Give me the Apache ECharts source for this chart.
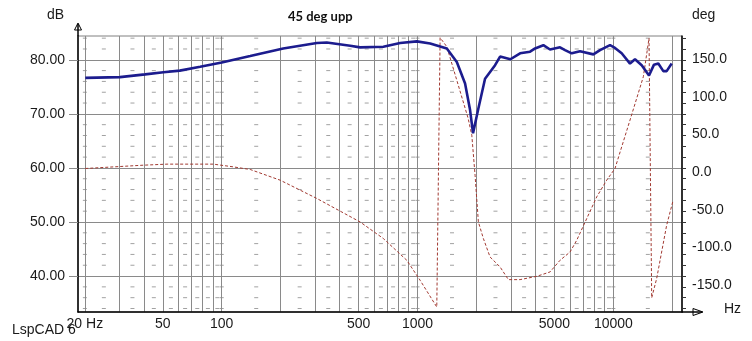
<!DOCTYPE html>
<html><head><meta charset="utf-8">
<script src="https://cdn.jsdelivr.net/npm/echarts@6/dist/echarts.min.js"></script>
<style>html,body{margin:0;padding:0;background:#fff}#c{width:752px;height:341px}</style>
</head><body><div id="c"></div>
<script>
// ---- data ----
const magFreq = [20.1, 30.2, 40.6, 50.4, 61.1, 77.6, 100, 139.8, 206, 306, 344, 453, 509, 669, 815, 992, 1160, 1411, 1587, 1749, 1855, 1921, 2045, 2212, 2489, 2640, 2980, 3340, 3757, 3984, 4391, 4750, 5343, 5665, 6130, 6760, 7905, 8550, 9617, 10195, 11030, 12165, 12900, 13960, 15210, 16130, 16970, 18000, 18720, 19860];
const magDb = [76.65, 76.8, 77.3, 77.7, 78.0, 78.7, 79.5, 80.7, 82.1, 83.1, 83.2, 82.6, 82.3, 82.4, 83.1, 83.4, 83.0, 82.1, 79.6, 75.6, 70.7, 66.4, 71.0, 76.5, 79.0, 80.6, 80.1, 81.2, 81.5, 82.1, 82.7, 81.9, 82.3, 81.8, 81.2, 81.6, 81.0, 81.8, 82.7, 82.2, 81.2, 79.3, 80.1, 79.0, 77.1, 79.1, 79.3, 77.9, 77.9, 79.3];
const phaseFreq = [20.1, 39.7, 52.6, 69, 90.6, 114.4, 139.8, 198.8, 306, 509, 669, 882, 1031, 1254, 1304, 1411, 1812, 1893, 1967, 2045, 2169, 2346, 2640, 2911, 3340, 4063, 4750, 5343, 6010, 6502, 8225, 9250, 10195, 12165, 14230, 15210, 15700, 16650, 18720, 20100];
const phaseDeg = [5, 9.4, 10.8, 10.8, 10.8, 7.2, 3.7, -10.5, -34.8, -66, -88, -117, -143.5, -179, 178.7, 166.8, 71.9, 49.3, -3.9, -66, -88, -112.5, -125.8, -142.6, -142.6, -138.2, -132.4, -116.9, -105.9, -90.3, -32.7, -10.5, 5, 69.3, 126.9, 177.9, -166.8, -141, -70.3, -39.4];
const gridFreqs = [20, 30, 40, 50, 60, 70, 80, 90, 100, 200, 300, 400, 500, 600, 700, 800, 900, 1000, 2000, 3000, 4000, 5000, 6000, 7000, 8000, 9000, 10000, 20000];
const freqLabels = [20, 50, 100, 500, 1000, 5000, 10000];
const crossFreqs = [20, 100, 1000, 10000];
const dbTicks = [40, 50, 60, 70, 80];
const dbMinor = [34, 36, 38, 42, 44, 46, 48, 52, 54, 56, 58, 62, 64, 66, 68, 72, 74, 76, 78, 82, 84];
const degTicks = [-150, -100, -50, 0, 50, 100, 150];
const title = '45 deg upp';

// ---- build ----
const dashX = [];
for (let i = 0; i < gridFreqs.length - 1; i++) dashX.push((gridFreqs[i] + gridFreqs[i + 1]) / 2);
crossFreqs.forEach(f => dashX.push(f));
const dashPts = [];
dashX.forEach(f => dbMinor.forEach(d => dashPts.push([f, d])));
const rightTicks = dbMinor.concat(dbTicks);

const FONT = 'Liberation Sans, Arial, sans-serif';
const chart = echarts.init(document.getElementById('c'), null, {renderer: 'canvas'});
chart.setOption({
  animation: false,
  backgroundColor: '#fff',
  grid: {left: 78, right: 70, top: 36, bottom: 29, show: true, borderColor: '#808080', borderWidth: 1},
  xAxis: [{
    type: 'log', logBase: 10, min: 18.45, max: 22420,
    axisLine: {show: true, onZero: false, lineStyle: {color: '#000', width: 1.5}},
    axisTick: {show: false, customValues: gridFreqs},
    axisLabel: {customValues: freqLabels, fontSize: 14, fontFamily: FONT, color: '#1a1a1a', margin: 5,
      formatter: v => (Math.round(v) === 20 ? '20 Hz' : String(Math.round(v)))},
    splitLine: {show: true, lineStyle: {color: '#8a8a8a', width: 1}},
    minorSplitLine: {show: false}
  }],
  yAxis: [{
    type: 'value', min: 33.35, max: 84.4, position: 'left',
    axisLine: {show: true, onZero: false, lineStyle: {color: '#000', width: 1.5}},
    axisTick: {show: true, customValues: dbTicks, length: 9, lineStyle: {color: '#8a8a8a'}},
    axisLabel: {customValues: dbTicks, fontSize: 14, fontFamily: FONT, color: '#1a1a1a', margin: 13,
      formatter: v => v.toFixed(2)},
    splitLine: {show: true, lineStyle: {color: '#8a8a8a', width: 1}}
  }, {
    type: 'value', min: -185.6, max: 181, position: 'right',
    axisLine: {show: false, onZero: false},
    axisTick: {show: false, customValues: degTicks},
    axisLabel: {customValues: degTicks, fontSize: 14, fontFamily: FONT, color: '#1a1a1a', margin: 10,
      formatter: v => v.toFixed(1)},
    splitLine: {show: false}
  }, {
    type: 'value', min: 33.35, max: 84.4, position: 'right',
    axisLine: {show: true, onZero: false, lineStyle: {color: '#000', width: 1.5}},
    axisTick: {show: true, customValues: rightTicks, length: 4, lineStyle: {color: '#333'}},
    axisLabel: {show: false},
    splitLine: {show: false}
  }],
  graphic: [
    {type: 'line', shape: {x1: 682, y1: 312, x2: 702, y2: 312}, style: {stroke: '#000', lineWidth: 1.5}},
    {type: 'polygon', shape: {points: [[693, 308.5], [703, 312], [693, 315.5]]}, style: {fill: 'none', stroke: '#000', lineWidth: 1}},
    {type: 'line', shape: {x1: 78, y1: 36, x2: 78, y2: 24}, style: {stroke: '#000', lineWidth: 1.5}},
    {type: 'polygon', shape: {points: [[74.5, 30], [78, 23], [81.5, 30]]}, style: {fill: 'none', stroke: '#000', lineWidth: 1}},
    {type: 'text', left: 47, top: 8, style: {text: 'dB', font: '14px ' + FONT, fill: '#1a1a1a'}},
    {type: 'text', left: 692, top: 8, style: {text: 'deg', font: '14px ' + FONT, fill: '#1a1a1a'}},
    {type: 'text', left: 724, top: 302, style: {text: 'Hz', font: '14px ' + FONT, fill: '#1a1a1a'}},
    {type: 'text', left: 12, top: 323, style: {text: 'LspCAD 6', font: '14px ' + FONT, fill: '#1a1a1a'}},
    {type: 'text', left: 288, top: 10, style: {text: title, font: 'bold 13px Lato, sans-serif', fill: '#111'}}
  ],
  series: [{
    name: 'grid-dash', type: 'scatter', xAxisIndex: 0, yAxisIndex: 0, silent: true, z: 1,
    symbol: 'rect', symbolSize: [4, 1], itemStyle: {color: '#8a8a8a'}, data: dashPts
  }, {
    name: 'phase', type: 'line', xAxisIndex: 0, yAxisIndex: 1, symbol: 'none', z: 3,
    lineStyle: {color: '#a23a32', width: 1, type: [3, 2]},
    data: phaseFreq.map((f, i) => [f, phaseDeg[i]])
  }, {
    name: 'magnitude', type: 'line', xAxisIndex: 0, yAxisIndex: 0, symbol: 'none', z: 4,
    lineStyle: {color: '#1c1c8e', width: 2.6},
    data: magFreq.map((f, i) => [f, magDb[i]])
  }]
});
</script></body></html>
